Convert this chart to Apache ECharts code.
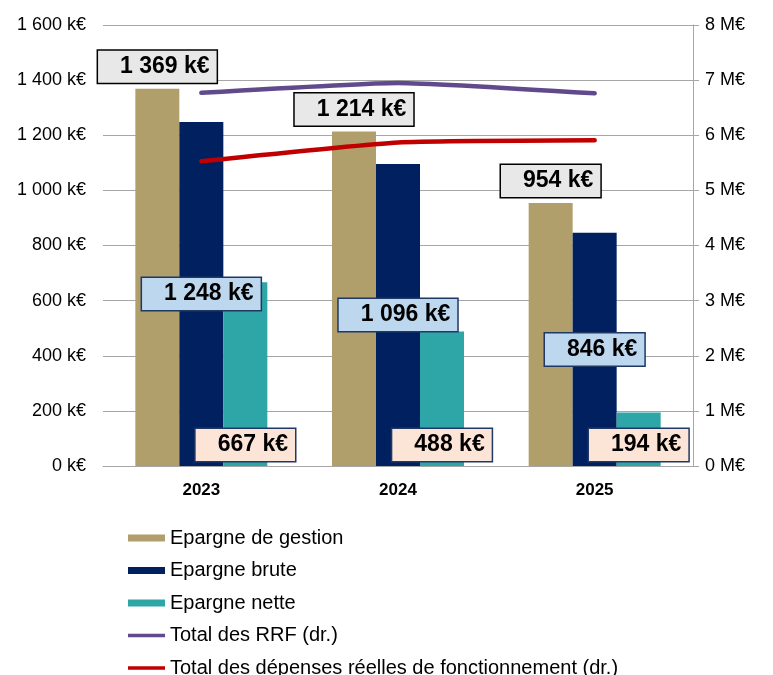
<!DOCTYPE html>
<html>
<head>
<meta charset="utf-8">
<title>Epargne</title>
<script src="https://cdn.jsdelivr.net/npm/echarts@6/dist/echarts.min.js"></script>
<style>
  html, body { margin: 0; padding: 0; background: #fff; }
  #chart { width: 773px; height: 675px; }
</style>
</head>
<body>
<div id="chart"></div>
<script>
// donnees
const annees = ['2023', '2024', '2025'];
const epargneGestion = [1369, 1214, 954];
const epargneBrute = [1248, 1096, 846];
const epargneNette = [667, 488, 194];
const totalRRF = [6.77, 6.95, 6.76];      // M€, axe de droite
const totalDRF = [5.53, 5.87, 5.91];      // M€, axe de droite

const axeGauche = { min: 0, max: 1600, interval: 200 };
const axeDroite = { min: 0, max: 8, interval: 1 };

const police = 'Liberation Sans, Arial, sans-serif';
const gris = '#a6a6a6';
// icone de legende pour les courbes : trait fin centre dans la case 37x7
const iconeTrait = 'path://M0,0 M37,7 M0,1.7 L37,1.7 L37,5.3 L0,5.3 Z';

function milliers(v) {
    return String(Math.round(v)).replace(/\B(?=(\d{3})+(?!\d))/g, ' ');
}

function etiquette(fond, bord, position, distance) {
    return {
        show: true,
        position: position,
        distance: distance,
        formatter: p => milliers(p.value) + ' k€',
        fontFamily: police,
        fontWeight: 'bold',
        fontSize: 23,
        lineHeight: 24,
        color: '#000',
        backgroundColor: fond,
        borderColor: bord,
        borderWidth: 1.5,
        padding: [4, 7, 4, 22]
    };
}

let chart = echarts.init(document.getElementById('chart'));

chart.setOption({
    animation: false,
    grid: { left: 103, right: 80, top: 25, bottom: 209 },
    legend: {
        orient: 'vertical',
        left: 128,
        top: 528,
        height: 160,
        padding: 0,
        itemWidth: 37,
        itemHeight: 7,
        itemGap: 12.5,
        textStyle: { fontFamily: police, fontSize: 20, lineHeight: 20, color: '#000' },
        data: [
            { name: 'Epargne de gestion', icon: 'rect' },
            { name: 'Epargne brute', icon: 'rect' },
            { name: 'Epargne nette', icon: 'rect' },
            { name: 'Total des RRF (dr.)', icon: iconeTrait },
            { name: 'Total des dépenses réelles de fonctionnement (dr.)', icon: iconeTrait }
        ]
    },
    xAxis: {
        type: 'category',
        data: annees,
        axisLine: { lineStyle: { color: gris, width: 1 } },
        axisTick: { show: false },
        axisLabel: { fontFamily: police, fontWeight: 'bold', fontSize: 17, color: '#000', margin: 16 }
    },
    yAxis: [
        {
            type: 'value',
            min: axeGauche.min,
            max: axeGauche.max,
            interval: axeGauche.interval,
            axisLine: { show: false },
            axisTick: { show: false },
            splitLine: { lineStyle: { color: gris, width: 1 } },
            axisLabel: {
                formatter: v => milliers(v) + ' k€',
                fontFamily: police, fontSize: 18, color: '#000', margin: 17
            }
        },
        {
            type: 'value',
            position: 'right',
            min: axeDroite.min,
            max: axeDroite.max,
            interval: axeDroite.interval,
            axisLine: { show: true, lineStyle: { color: gris, width: 1 } },
            axisTick: { show: true, length: 6, lineStyle: { color: gris } },
            splitLine: { show: false },
            axisLabel: {
                formatter: v => v + ' M€',
                fontFamily: police, fontSize: 18, color: '#000', margin: 12
            }
        }
    ],
    series: [
        {
            name: 'Epargne de gestion',
            type: 'bar',
            data: epargneGestion,
            barWidth: 44,
            barGap: '0%',
            itemStyle: { color: '#b19f6b' },
            label: etiquette('#e8e8e8', '#000', 'top', 6)
        },
        {
            name: 'Epargne brute',
            type: 'bar',
            data: epargneBrute,
            barWidth: 44,
            barGap: '0%',
            itemStyle: { color: '#002060' },
            label: etiquette('#bdd7ee', '#1f3864', 'inside', 0)
        },
        {
            name: 'Epargne nette',
            type: 'bar',
            data: epargneNette,
            barWidth: 44,
            barGap: '0%',
            itemStyle: { color: '#2ea6a8' },
            label: etiquette('#fce4d6', '#1f3864', 'insideBottom', 5)
        },
        {
            name: 'Total des RRF (dr.)',
            type: 'line',
            yAxisIndex: 1,
            data: totalRRF,
            smooth: 0.15,
            symbol: 'none',
            z: 3,
            itemStyle: { color: '#604a8c' },
            lineStyle: { color: '#604a8c', width: 4.5, cap: 'round' }
        },
        {
            name: 'Total des dépenses réelles de fonctionnement (dr.)',
            type: 'line',
            yAxisIndex: 1,
            data: totalDRF,
            smooth: 0.15,
            symbol: 'none',
            z: 3,
            itemStyle: { color: '#c00000' },
            lineStyle: { color: '#c00000', width: 4.5, cap: 'round' }
        }
    ]
});
</script>
</body>
</html>
